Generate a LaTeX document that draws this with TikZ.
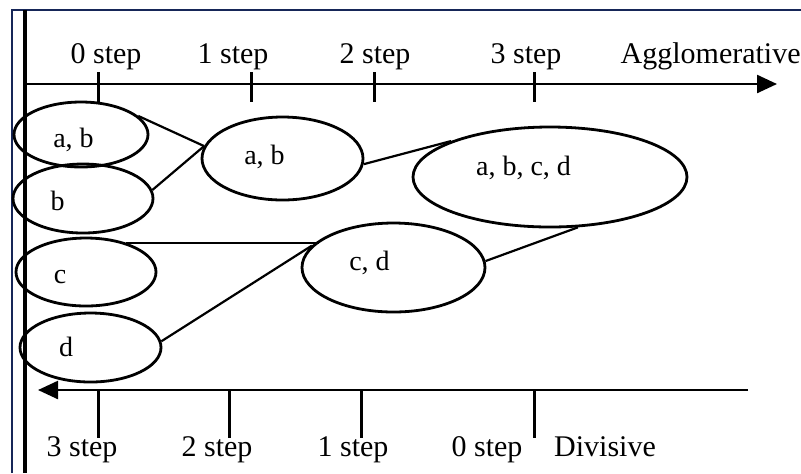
\documentclass[tikz,border=0pt]{standalone}
\usepackage{fontspec}
\setmainfont{Liberation Serif}
\usetikzlibrary{arrows.meta,shapes.geometric}
\definecolor{framenavy}{RGB}{22,38,88}
\tikzset{
  clu/.style={draw, ellipse, line width=1.4pt, inner sep=0pt},
  lab/.style={font=\fontsize{14}{16}\selectfont, anchor=base, inner sep=0pt},
  stp/.style={font=\fontsize{15}{17}\selectfont, anchor=base, inner sep=0pt},
  ax/.style={line width=1.2pt},
  tk/.style={line width=1.5pt},
  lnk/.style={draw, line width=1.1pt},
  tip/.style={-{Triangle[length=10pt,width=9pt]}}
}

\begin{document}
\begin{tikzpicture}[x=0.5pt, y=-0.5pt]
\useasboundingbox (0,0) rectangle (801,473);
\draw[framenavy, line width=1pt] (12,473) -- (12,10) -- (801,10);
\draw[line width=1.6pt] (25,10) -- (25,473);
% agglomerative axis
\draw[ax, tip] (25,84) -- (777,84);
\foreach \x/\lx/\s in {98/106/0, 251/233/1, 374/375/2, 534/526/3} {
  \draw[tk] (\x,72) -- (\x,102);
  \node[stp] (top\s) at (\lx,63) {\s{} step};
}
\node[stp, anchor=base east] (agg) at (801,63) {Agglomerative};
% divisive axis
\draw[ax, tip] (748,390) -- (38,390);
\foreach \x/\lx/\s in {98/82/3, 229/217/2, 361/353/1, 534/487/0} {
  \draw[tk] (\x,390) -- (\x,438);
  \node[stp] (bot\s) at (\lx,456) {\s{} step};
}
\node[stp] (div) at (605,456) {Divisive};
% clusters
\node[clu, minimum width=67pt, minimum height=32.5pt] (ab0) at (81,134.5) {};
\node[clu, minimum width=70pt, minimum height=34.5pt] (b) at (83,198.5) {};
\node[clu, minimum width=70pt, minimum height=34pt] (c) at (86,272) {};
\node[clu, minimum width=70.5pt, minimum height=34.5pt] (d) at (90.5,347.5) {};
\node[clu, minimum width=80.5pt, minimum height=41.5pt] (ab1) at (282.5,158.5) {};
\node[clu, minimum width=91.5pt, minimum height=44.5pt] (cd) at (393.5,267.5) {};
\node[clu, minimum width=137pt, minimum height=50pt] (abcd) at (550,177) {};
\node[lab] (tab0) at (73.5,147) {a, b};
\node[lab] (tb) at (57.5,210) {b};
\node[lab] (tc) at (60,283) {c};
\node[lab] (td) at (66,356) {d};
\node[lab] (tab1) at (264.5,164) {a, b};
\node[lab] (tcd) at (369.5,270) {c, d};
\node[lab] (tabcd) at (523.5,175) {a, b, c, d};
% merges
\draw[lnk] (ab0.18) -- (ab1.171);
\draw[lnk] (b.7) -- (ab1.171);
\draw[lnk] (ab1.-4) -- (abcd.160);
\draw[lnk] (c.36) -- (c.36 -| cd.160);
\draw[lnk] (d.5) -- (cd.165);
\draw[lnk] (cd.4) -- (abcd.-61);
\end{tikzpicture}
\end{document}
